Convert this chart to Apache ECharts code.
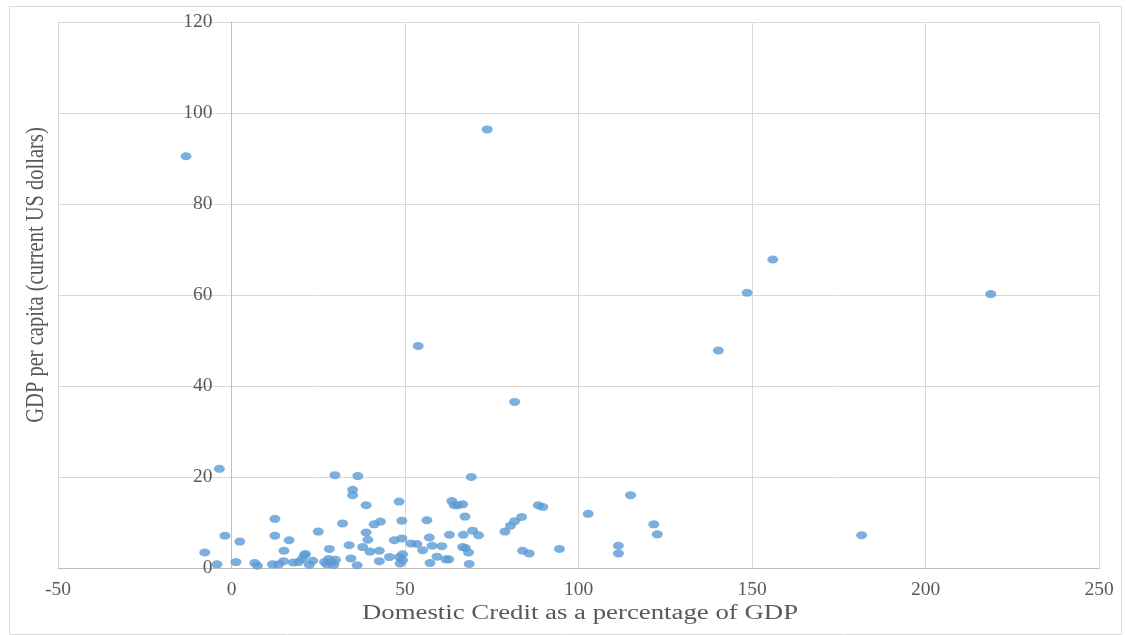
<!DOCTYPE html>
<html>
<head>
<meta charset="utf-8">
<script src="https://cdn.jsdelivr.net/npm/echarts@6/dist/echarts.min.js"></script>
<style>
html,body{margin:0;padding:0;background:#fff;}
#c{width:1126px;height:635px;}
</style>
</head>
<body>
<div id="c"></div>
<script>
// Domestic credit (% of GDP)
var creditPct = [
  -13.1, 73.7, 156.0, 148.6, 218.8, 140.3, 53.8, 81.6, 181.6,
  88.4, 89.7, 83.6, 83.9, 85.8, 94.5, 102.8, 115.0, 121.7, 122.7, 111.5, 111.5,
  69.1, 63.5, 64.2, 65.2, 66.6, 67.3, 56.3, 57.0, 62.8, 66.8, 69.5, 71.2, 78.8, 80.4, 81.6,
  51.7, 53.4, 55.1, 57.8, 60.6, 59.2, 57.2, 61.8, 62.6, 66.6, 67.4, 68.3, 68.5,
  29.8, 36.4, 34.9, 34.9, 38.8, 48.3, 32.0, 25.0, 41.1, 42.9, 49.1, 38.8, 39.3, 33.9, 37.8,
  39.9, 42.6, 46.9, 49.1, 28.2, 21.3, 20.3, 23.4, 22.4, 26.8, 28.0, 29.0, 30.0, 27.5, 29.5,
  34.4, 36.2, 42.6, 45.5, 48.4, 49.3, 48.6, 49.3,
  -3.5, -7.7, -1.9, 2.4, -4.2, 1.3, 6.7, 7.5, 12.5, 12.5, 16.6, 15.1, 11.8, 13.6, 15.0, 17.8, 19.3, 21.0
];
// GDP per capita (current US dollars, as plotted)
var gdpPerCapita = [
  90.5, 96.4, 67.8, 60.5, 60.2, 47.8, 48.8, 36.5, 7.2,
  13.8, 13.4, 11.2, 3.8, 3.2, 4.2, 11.9, 16.0, 9.6, 7.4, 4.9, 3.2,
  20.0, 14.7, 13.8, 13.8, 14.0, 11.3, 10.5, 6.7, 7.3, 7.3, 8.2, 7.2, 8.0, 9.3, 10.3,
  5.4, 5.3, 3.9, 4.9, 4.8, 2.5, 1.1, 1.9, 1.9, 4.6, 4.4, 3.4, 0.9,
  20.4, 20.2, 17.2, 16.0, 13.8, 14.6, 9.8, 8.0, 9.6, 10.2, 10.4, 7.8, 6.2, 5.0, 4.6,
  3.6, 3.8, 6.1, 6.5, 4.2, 3.1, 1.9, 1.6, 0.7, 1.3, 2.0, 1.3, 1.8, 0.8, 0.7,
  2.1, 0.6, 1.5, 2.4, 2.4, 3.0, 1.0, 1.7,
  21.8, 3.4, 7.1, 5.8, 0.8, 1.3, 1.1, 0.5, 10.8, 7.1, 6.1, 3.8, 0.8, 0.8, 1.5, 1.2, 1.3, 2.8
];
var xTitle = "Domestic Credit as a percentage of GDP";
var yTitle = "GDP per capita (current US dollars)";

var points = creditPct.map(function (x, i) { return [x, gdpPerCapita[i]]; });
var font = "'Liberation Serif', 'Times New Roman', serif";
var txt = '#595959';

var chart = echarts.init(document.getElementById('c'), null, {renderer: 'canvas'});
chart.setOption({
  animation: false,
  backgroundColor: '#fff',
  grid: {left: 58, right: 27, top: 22, bottom: 67, containLabel: false},
  xAxis: {
    type: 'value', min: -50, max: 250, interval: 50,
    axisLine: {show: true, onZero: true, lineStyle: {color: '#bfbfbf', width: 1}},
    axisTick: {show: false},
    splitLine: {show: true, lineStyle: {color: '#d9d9d9', width: 1}},
    axisLabel: {color: txt, fontFamily: font, fontSize: 19.5, margin: 12}
  },
  yAxis: {
    type: 'value', min: 0, max: 120, interval: 20,
    offset: -173.5,
    axisLine: {show: true, onZero: false, lineStyle: {color: '#bfbfbf', width: 1}},
    axisTick: {show: false},
    splitLine: {show: true, lineStyle: {color: '#d9d9d9', width: 1}},
    axisLabel: {color: txt, fontFamily: font, fontSize: 19.5, margin: 19}
  },
  series: [{
    type: 'scatter',
    data: points,
    symbol: 'circle',
    symbolSize: [11, 8],
    itemStyle: {color: '#5b9bd5'}
  }],
  graphic: [
    {type: 'rect', left: 7, top: 4, shape: {width: 1112, height: 628},
     style: {fill: 'none', stroke: '#d9d9d9', lineWidth: 1}, silent: true, z: -1},
    {type: 'text', x: 580, y: 614, scaleX: 1.34,
     style: {text: xTitle, fill: txt, font: "20px " + font, textAlign: 'center', textVerticalAlign: 'middle'}},
    {type: 'text', x: 36, y: 275, rotation: Math.PI / 2, scaleY: 1.25,
     style: {text: yTitle, fill: txt, font: "20.5px " + font, textAlign: 'center', textVerticalAlign: 'middle'}}
  ]
});
</script>
</body>
</html>
